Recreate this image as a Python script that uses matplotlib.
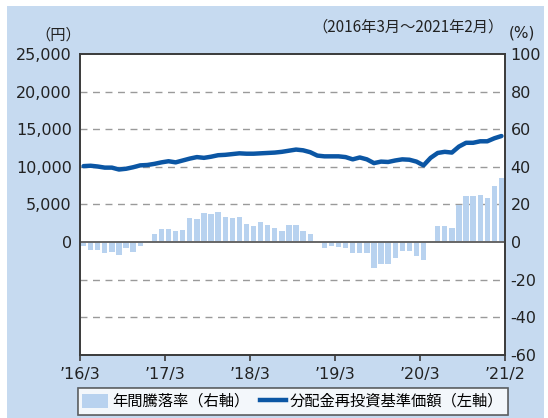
import matplotlib
matplotlib.use("Agg")
import matplotlib.pyplot as plt
from matplotlib.patches import Rectangle, Patch
from matplotlib.lines import Line2D

plt.rcParams['font.family'] = ['DejaVu Sans', 'Noto Sans CJK JP']

# monthly data, 2016/3 - 2021/2 (60 months)
nav = [10100, 10150, 10050, 9900, 9900, 9650, 9750, 9950, 10200, 10250,
       10400, 10600, 10750, 10600, 10850, 11100, 11300, 11200, 11350, 11550,
       11600, 11700, 11800, 11750, 11750, 11800, 11850, 11900, 12000, 12150,
       12300, 12200, 11950, 11500, 11400, 11400, 11400, 11300, 11000, 11250,
       11000, 10500, 10700, 10650, 10850, 11000, 10950, 10700, 10200, 11200,
       11850, 12000, 11900, 12700, 13200, 13200, 13400, 13400, 13800, 14100]
ret = [-2.0, -4.0, -4.0, -5.7, -5.0, -6.7, -3.0, -5.0, -2.3, 0.0,
       4.1, 6.9, 7.1, 5.9, 6.6, 13.0, 12.5, 15.3, 15.0, 15.8,
       13.2, 12.8, 13.2, 9.6, 8.5, 10.9, 8.9, 7.7, 5.7, 8.9,
       8.9, 6.1, 4.3, 0.0, -3.0, -2.3, -2.7, -3.0, -5.9, -5.7,
       -5.7, -13.7, -11.8, -11.8, -8.7, -4.8, -4.6, -7.3, -9.4, 0.0,
       8.5, 8.5, 7.5, 19.7, 24.7, 24.7, 25.0, 23.5, 29.7, 34.0]
xtick_labels = ["’16/3", "’17/3", "’18/3", "’19/3", "’20/3", "’21/2"]
yen_ticks = [0, 5000, 10000, 15000, 20000, 25000]
pct_ticks = [100, 80, 60, 40, 20, 0, -20, -40, -60]

BG = "#c6daf0"
BAR = "#b8d2ef"
LINE = "#0b56a4"
DARK = "#3a3a3a"

W, H = 548, 418
fig = plt.figure(figsize=(W / 100, H / 100), dpi=100, facecolor="white")
fig.patches.append(Rectangle((7 / W, 0), 537 / W, 412 / H, transform=fig.transFigure,
                             facecolor=BG, edgecolor="none", zorder=-10))

ax = fig.add_axes([80 / W, (H - 355) / H, 425 / W, 301 / H])
ax.set_facecolor("white")
ax2 = ax.twinx()
n = len(ret)
x = list(range(n))

# bars on the % axis (shown on the right)
ax.bar(x, ret, width=0.75, color=BAR, zorder=2)
ax.set_ylim(-60, 100)
ax.set_xlim(-0.5, n - 0.5)
for g in [80, 60, 40, 20, -20, -40]:
    ax.axhline(g, color="#9a9a9a", lw=1.0, ls=(0, (5, 4)), zorder=1)
ax.axhline(0, color="#666666", lw=1.4, zorder=3)

ax.set_yticks(pct_ticks)
ax.set_yticklabels([str(v) for v in pct_ticks])
ax.yaxis.tick_right()
ax.tick_params(axis="y", length=0, pad=4, labelsize=11.5, colors="#222222")
ax.set_xticks([-0.5 + 12 * k for k in range(6)])
ax.set_xticklabels(xtick_labels)
ax.tick_params(axis="x", direction="out", length=4, width=1.2, color=DARK,
               pad=5, labelsize=11.5, labelcolor="#222222")

# NAV line on the yen axis (shown on the left)
ax2.plot(x, nav, color=LINE, lw=3.2, solid_capstyle="round", zorder=5)
ax2.set_ylim(-15000, 25000)
ax2.set_yticks(yen_ticks)
ax2.set_yticklabels([f"{v:,}" for v in yen_ticks])
ax2.yaxis.tick_left()
ax2.tick_params(axis="y", length=0, pad=6, labelsize=11.5, colors="#222222")

for a in (ax, ax2):
    for s in a.spines.values():
        s.set_color(DARK)
        s.set_linewidth(1.2)

fig.text(81 / W, 1 - 35 / H, "（円）", ha="right", va="center", fontsize=11,
         family="Noto Sans CJK JP", color="#222222")
fig.text(509 / W, 1 - 33 / H, "(%)", ha="left", va="center", fontsize=11,
         color="#222222")
fig.text(504 / W, 1 - 27 / H, "（2016年3月～2021年2月）", ha="right", va="center",
         fontsize=11, family="Noto Sans CJK JP", color="#222222")

handles = [Patch(facecolor=BAR, edgecolor="none"),
           Line2D([0], [0], color=LINE, lw=3.2)]
labels = ["年間騰落率（右軸）", "分配金再投資基準価額（左軸）"]
leg = fig.legend(handles, labels, loc="center", bbox_to_anchor=(293 / W, 16.5 / H),
                 ncol=2, frameon=True, fancybox=False,
                 handlelength=1.7, handleheight=1.0, handletextpad=0.25,
                 columnspacing=0.7, borderpad=0.3, borderaxespad=0,
                 prop={"family": "Noto Sans CJK JP", "size": 11})
leg.get_frame().set_edgecolor(DARK)
leg.get_frame().set_linewidth(1.2)
leg.get_frame().set_facecolor("white")

plt.savefig("out.png", dpi=100, facecolor="white")
plt.close()
